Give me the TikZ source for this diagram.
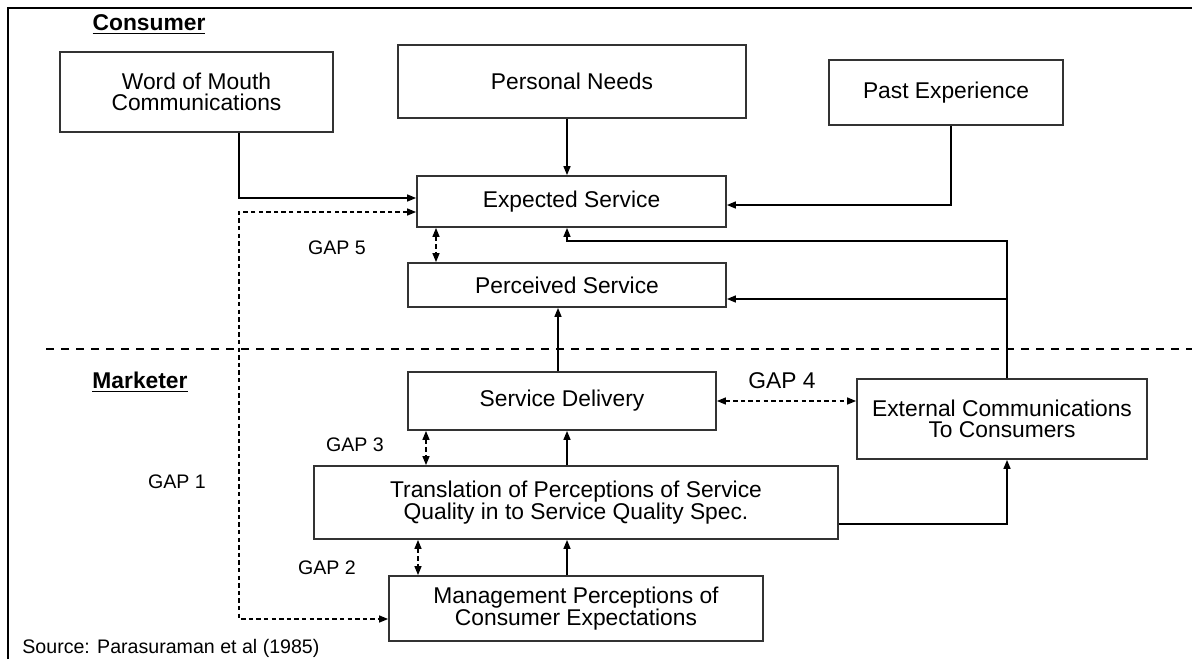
\documentclass[tikz,border=0pt]{standalone}
\usepackage{fontspec}
\setmainfont{Liberation Sans}
\usetikzlibrary{arrows.meta}

\begin{document}
\begin{tikzpicture}[x=0.5pt,y=0.5pt,yscale=-1,xscale=1,
  box/.style={draw=black!80, line width=0.9pt, inner sep=0pt, align=center, font=\fontsize{11.4}{10.8}\selectfont},
  heading/.style={inner sep=0pt, font=\bfseries\fontsize{11.4}{14}\selectfont},
  gaplabel/.style={inner sep=0pt, font=\fontsize{9.8}{12}\selectfont},
  link/.style={line width=0.75pt, -{Triangle[length=4.5pt,width=3.5pt]}},
  gaplink/.style={line width=0.7pt, dash pattern=on 2.2pt off 1.6pt, {Triangle[length=4.5pt,width=3.5pt]}-{Triangle[length=4.5pt,width=3.5pt]}},
  divider/.style={line width=1pt, dash pattern=on 4pt off 3.5pt}]
\useasboundingbox (0,0) rectangle (1192,659);

%Shape: Frame
\draw [line width=1pt] (8,659) -- (8,8) -- (1192,8) ;
%Straight Lines: Consumer / Marketer divide
\coordinate (divleft) at (46,349);
\coordinate (divright) at (1192,349);
\draw [divider] (divleft) -- (divright) ;

% Text Node
\node (consumer) at (149,25) [heading] {\underline{Consumer}};
% Text Node
\node (marketer) at (140,382) [heading] {\underline{Marketer}};

%Shape: Rectangle
\node (mouth) at (196.5,92) [box, minimum width=136.5pt, minimum height=40pt] {Word of Mouth\\Communications};
%Shape: Rectangle
\node (needs) at (572,81.5) [box, minimum width=174pt, minimum height=36.5pt] {Personal Needs};
%Shape: Rectangle
\node (past) at (946,92.5) [box, minimum width=117pt, minimum height=32.5pt] {Past Experience};
%Shape: Rectangle
\node (expected) at (571.5,201.5) [box, minimum width=154.5pt, minimum height=25.5pt] {Expected Service};
%Shape: Rectangle
\node (perceived) at (567,285) [box, minimum width=159pt, minimum height=22pt] {Perceived Service};
%Shape: Rectangle
\node (delivery) at (562,401) [box, minimum width=154pt, minimum height=29pt] {Service Delivery};
%Shape: Rectangle
\node (external) at (1002,419) [box, minimum width=145pt, minimum height=40pt] {External Communications\\To Consumers};
%Shape: Rectangle
\node (translation) at (576,502.5) [box, minimum width=262pt, minimum height=36.5pt] {Translation of Perceptions of Service\\Quality in to Service Quality Spec.};
%Shape: Rectangle
\node (management) at (576,608.5) [box, minimum width=187pt, minimum height=32.5pt] {Management Perceptions of\\Consumer Expectations};

% bends and columns of the connectors
\coordinate (spine) at (567,0);
\coordinate (riser) at (558,0);
\coordinate (mouthbend) at (239,198);
\coordinate (pastbend) at (951,205);
\coordinate (exttop) at (1007,241);
\coordinate (extbranch) at (1007,299);
\coordinate (specbend) at (1007,524);
\coordinate (gaponetop) at (239,212);
\coordinate (gaponelow) at (239,619);
\coordinate (gapfive) at (436,0);
\coordinate (gapthree) at (426,0);
\coordinate (gaptwo) at (418,0);

%Straight Lines
\draw [link] (mouth.south -| mouthbend) -- (mouthbend) -- (expected.west |- mouthbend) ;
\draw [link] (needs.south -| spine) -- (expected.north -| spine) ;
\draw [link] (past.south -| pastbend) -- (pastbend) -- (expected.east |- pastbend) ;
\draw [link] (external.north -| exttop) -- (exttop) -| (expected.south -| spine) ;
\draw [link] (extbranch) -- (perceived.east |- extbranch) ;
\draw [link] (delivery.north -| riser) -- (perceived.south -| riser) ;
\draw [link] (translation.north -| spine) -- (delivery.south -| spine) ;
\draw [link] (management.north -| spine) -- (translation.south -| spine) ;
\draw [link] (translation.east |- specbend) -- (specbend) -- (external.south -| specbend) ;

%Dashed Lines: gaps
\draw [gaplink] (expected.west |- gaponetop) -- (gaponetop) -- (gaponelow) -- (management.west |- gaponelow) ;
\draw [gaplink] (expected.south -| gapfive) -- (perceived.north -| gapfive) ;
\draw [gaplink] (delivery.east) -- (external.west |- delivery.east) ;
\draw [gaplink] (delivery.south -| gapthree) -- (translation.north -| gapthree) ;
\draw [gaplink] (translation.south -| gaptwo) -- (management.north -| gaptwo) ;

% Text Node
\node (gapone) at (177,482) [gaplabel] {GAP 1};
% Text Node
\node (gaptwolabel) at (327,568) [gaplabel] {GAP 2};
% Text Node
\node (gapthreelabel) at (355,445) [gaplabel] {GAP 3};
% Text Node
\node (gapfour) at (782,381) [gaplabel, font=\fontsize{11.4}{12}\selectfont] {GAP 4};
% Text Node
\node (gapfivelabel) at (337,248) [gaplabel] {GAP 5};
% Text Node
\node (source) at (22,648) [gaplabel, anchor=west] {Source: Parasuraman et al (1985)};

\end{tikzpicture}
\end{document}
